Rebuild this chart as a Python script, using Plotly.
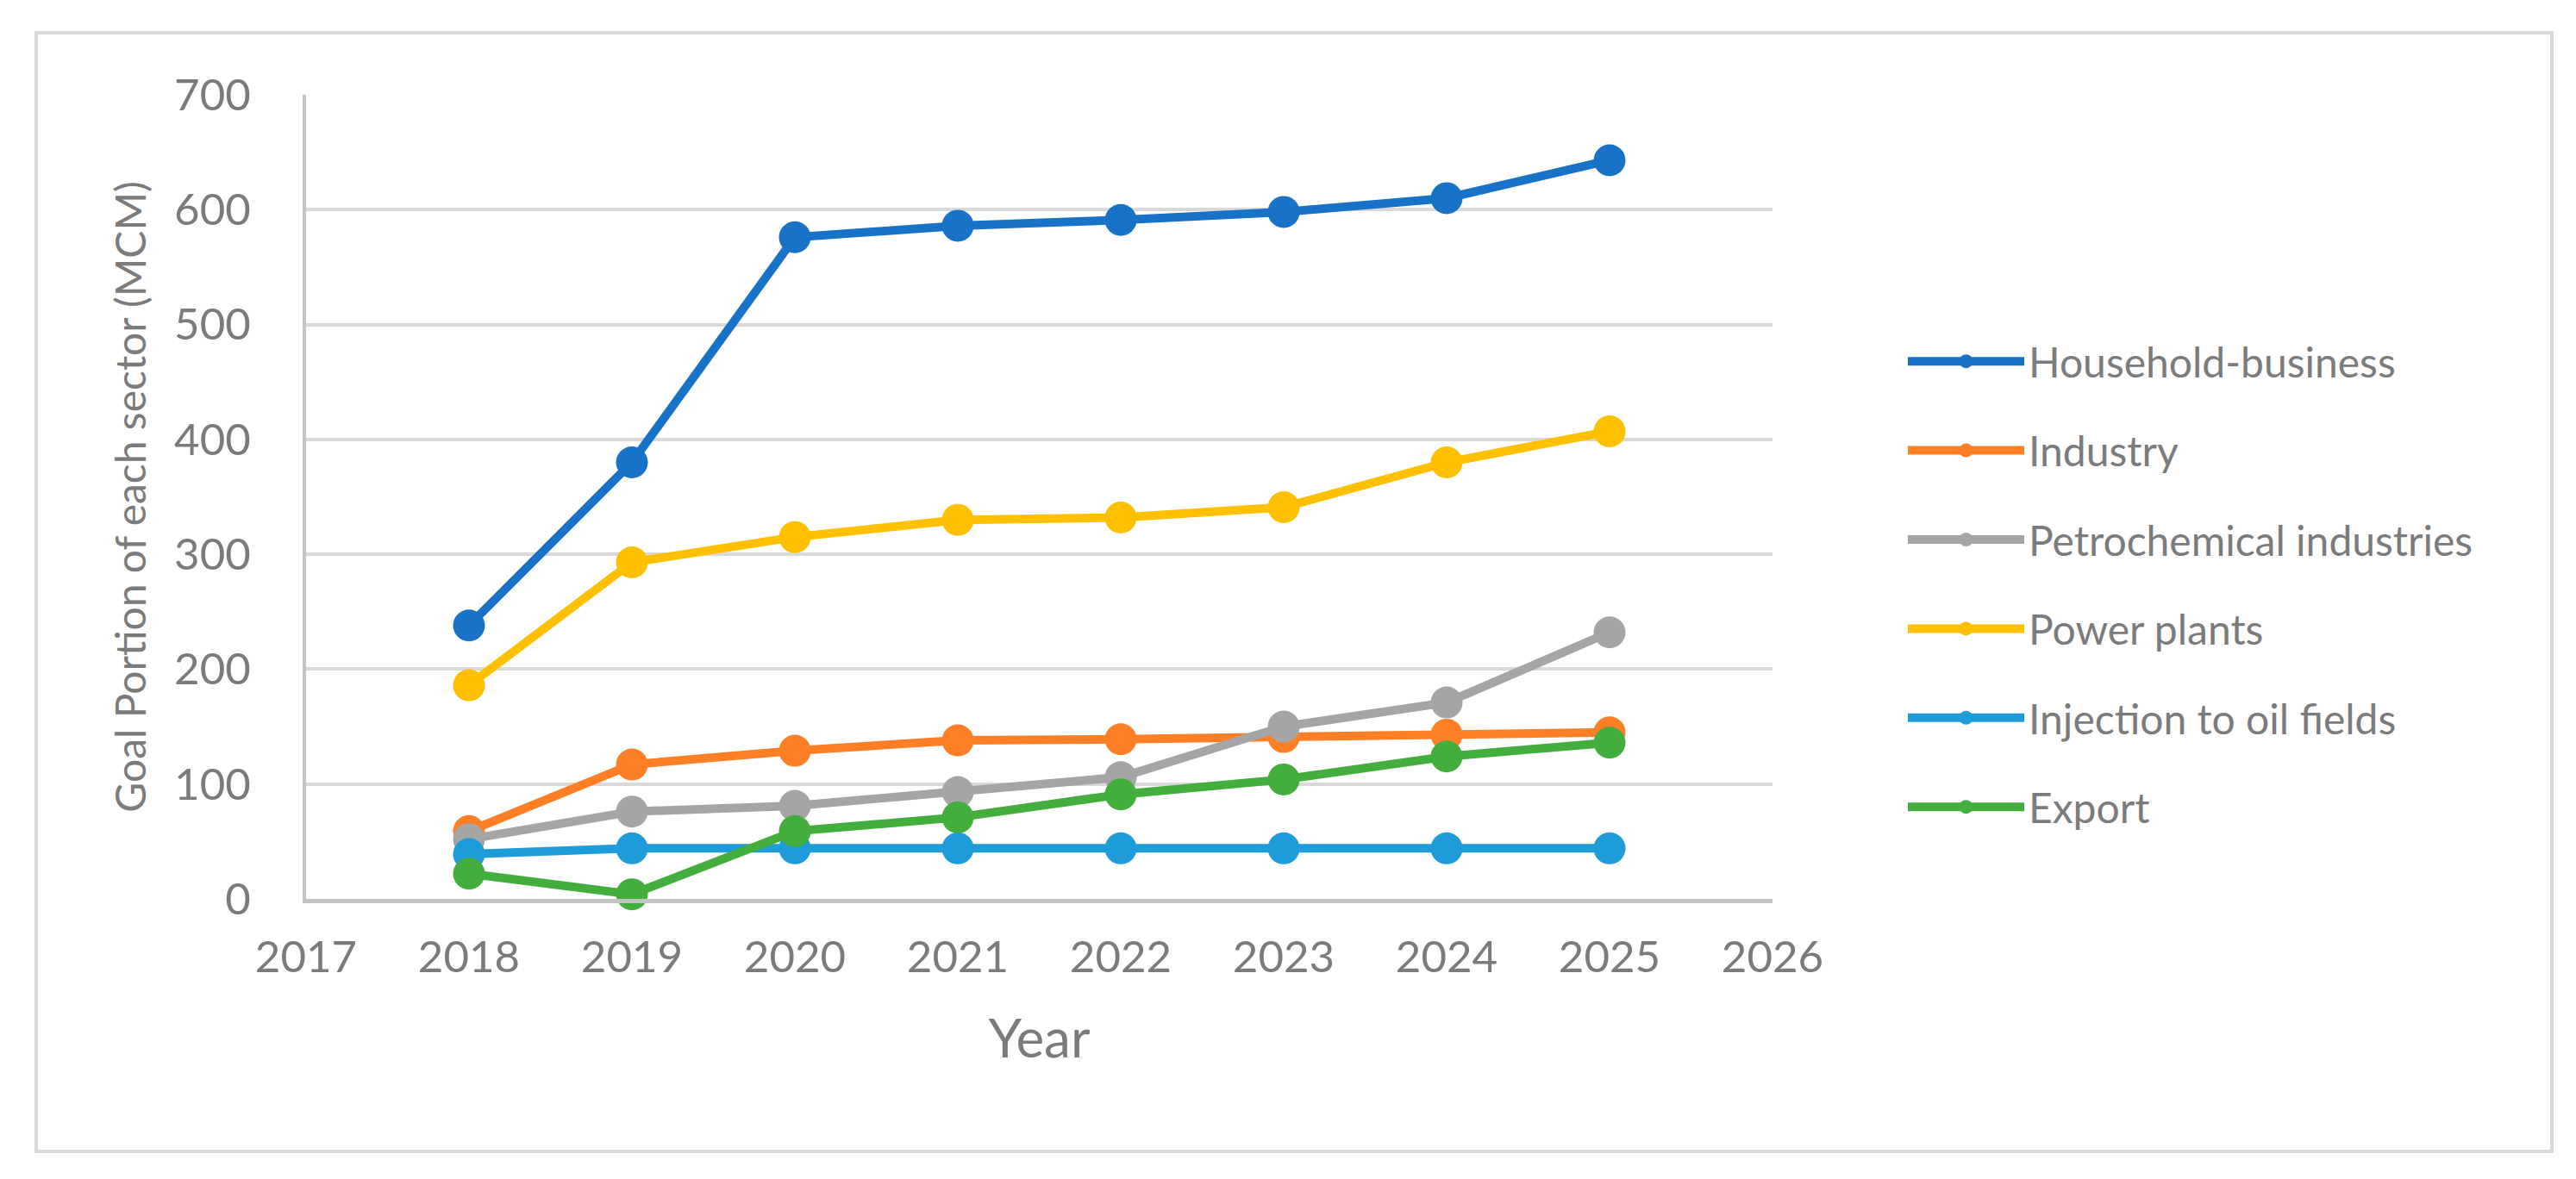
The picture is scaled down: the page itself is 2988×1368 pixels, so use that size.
import plotly.graph_objects as go

years = [2018, 2019, 2020, 2021, 2022, 2023, 2024, 2025]
household_business = [238, 380, 576, 586, 591, 598, 610, 643]
industry = [59, 117, 129, 138, 139, 141, 143, 145]
petrochemical = [52, 76, 81, 93, 106, 150, 171, 232]
power_plants = [186, 293, 315, 330, 332, 341, 380, 407]
injection_oil_fields = [39, 44, 44, 44, 44, 44, 44, 44]
export = [22, 4, 59, 71, 91, 104, 124, 136]

series_names = ["Household-business", "Industry", "Petrochemical industries",
                "Power plants", "Injection to oil fields", "Export"]
series_values = [household_business, industry, petrochemical,
                 power_plants, injection_oil_fields, export]
series_colors = ["#1872C8", "#FF7F27", "#A5A5A5", "#FFC000", "#1E9CD9", "#43AE3D"]

x_ticks = [2017, 2018, 2019, 2020, 2021, 2022, 2023, 2024, 2025, 2026]
y_ticks = [0, 100, 200, 300, 400, 500, 600, 700]

FONT = "Lato"
TEXT = "#7B7B7B"

W, H = 2988, 1368
L, R, T, B = 347, 2048, 102, 1035
pw, ph = R - L, B - T

fig = go.Figure()
for i, (name, vals, col) in enumerate(zip(series_names, series_values, series_colors)):
    fig.add_trace(go.Scatter(
        x=years, y=vals, name=name, mode="lines+markers",
        line=dict(color=col, width=10),
        marker=dict(color=col, size=37),
        cliponaxis=False, legendgroup=f"g{i}",
    ))

def px_x(p):
    return (p - L) / pw

def px_y(p):
    return (B - p) / ph

fig.update_layout(
    width=W, height=H,
    margin=dict(l=L, r=W - R, t=T, b=H - B, pad=0),
    paper_bgcolor="white", plot_bgcolor="white",
    font=dict(family=FONT, color=TEXT),
    showlegend=True,
    legend=dict(
        x=px_x(2200), y=px_y(670), xanchor="left", yanchor="middle",
        font=dict(family=FONT, size=48, color=TEXT),
        tracegroupgap=38, traceorder="grouped", itemwidth=135,
        bgcolor="rgba(0,0,0,0)",
    ),
    xaxis=dict(
        range=[2017, 2026], tickvals=x_ticks, ticktext=[str(v) for v in x_ticks],
        showgrid=False, zeroline=False, showline=True, linecolor="#C4C4C4", linewidth=5,
        ticks="", tickfont=dict(family=FONT, size=51, color=TEXT),
        ticklabelstandoff=19,
        title=dict(text="Year", font=dict(family=FONT, size=62, color=TEXT), standoff=47),
    ),
    yaxis=dict(
        range=[0, 700], tickvals=y_ticks, ticktext=[str(v) for v in y_ticks],
        showgrid=True, gridcolor="#D9D9D9", gridwidth=4, zeroline=False,
        showline=True, linecolor="#C4C4C4", linewidth=4,
        ticks="", tickfont=dict(family=FONT, size=51, color=TEXT),
        ticklabelstandoff=50,
        title=dict(text="Goal Portion of each sector (MCM)",
                   font=dict(family=FONT, size=48, color=TEXT), standoff=18),
    ),
    shapes=[dict(
        type="rect", xref="paper", yref="paper", layer="below",
        x0=px_x(34), x1=px_x(2952), y0=px_y(1328), y1=px_y(30),
        line=dict(color="#D9D9D9", width=4), fillcolor="rgba(0,0,0,0)",
    )],
)

fig.write_html("out.html")
